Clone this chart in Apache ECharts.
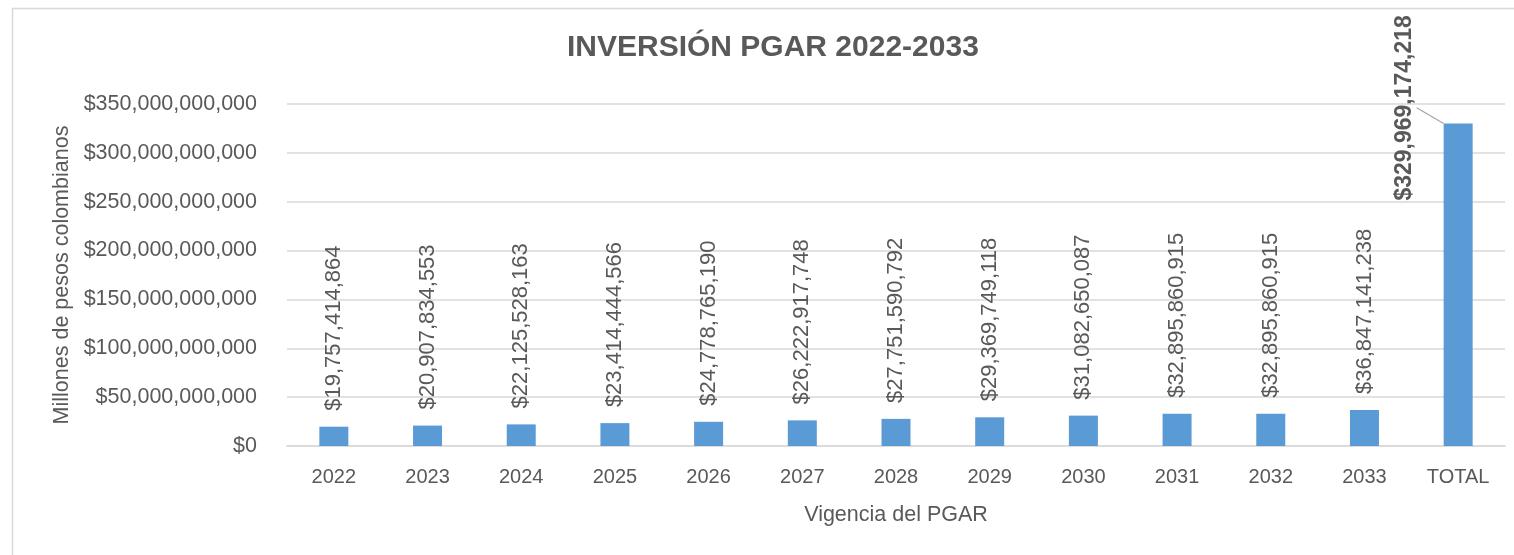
<!DOCTYPE html>
<html>
<head>
<meta charset="utf-8">
<script src="https://cdn.jsdelivr.net/npm/echarts@6/dist/echarts.min.js"></script>
<style>
  html, body { margin: 0; padding: 0; background: #ffffff; }
  #chart { width: 1514px; height: 555px; }
</style>
</head>
<body>
<div id="chart"></div>
<script>
// Investment per year of the PGAR plan, plus the overall total
const categories = ['2022', '2023', '2024', '2025', '2026', '2027', '2028', '2029', '2030', '2031', '2032', '2033', 'TOTAL'];
const investment = [
  19757414864, 20907834553, 22125528163, 23414444566, 24778765190, 26222917748,
  27751590792, 29369749118, 31082650087, 32895860915, 32895860915, 36847141238,
  329969174218
];
const yTicks = { min: 0, max: 350000000000, interval: 50000000000 };

const FONT = '"Liberation Sans", Arial, sans-serif';
const GREY = '#595959';
const GRID = '#d9d9d9';
const BAR = '#5b9bd5';

const money = v => '$' + Math.round(v).toLocaleString('en-US');
const totalIndex = categories.indexOf('TOTAL');

const chart = echarts.init(document.getElementById('chart'), null, { renderer: 'canvas' });

chart.setOption({
  animation: false,
  backgroundColor: '#ffffff',
  textStyle: { fontFamily: FONT },
  graphic: [{
    type: 'rect',
    left: 10, top: 6,
    shape: { width: 1700, height: 700 },
    style: { fill: 'none', stroke: GRID, lineWidth: 1.5 },
    silent: true, z: -1
  }],
  title: {
    text: 'INVERSIÓN PGAR 2022-2033',
    left: 562, top: 28,
    textStyle: { fontFamily: FONT, fontSize: 30, fontWeight: 'bold', color: GREY }
  },
  grid: { left: 287, right: 9, top: 104, bottom: 109, containLabel: false },
  xAxis: {
    type: 'category',
    data: categories,
    name: 'Vigencia del PGAR',
    nameLocation: 'middle',
    nameGap: 58,
    nameTextStyle: { fontFamily: FONT, fontSize: 21.5, color: GREY },
    axisLine: { show: true, lineStyle: { color: GRID, width: 1.5 } },
    axisTick: { show: false },
    axisLabel: { fontFamily: FONT, fontSize: 20, color: GREY, margin: 21 }
  },
  yAxis: {
    type: 'value',
    min: yTicks.min, max: yTicks.max, interval: yTicks.interval,
    name: 'Millones de pesos colombianos',
    nameLocation: 'middle',
    nameGap: 183,
    nameTextStyle: { fontFamily: FONT, fontSize: 21.5, color: GREY },
    axisLine: { show: false },
    axisTick: { show: false },
    splitLine: { lineStyle: { color: GRID, width: 1.5 } },
    axisLabel: { fontFamily: FONT, fontSize: 21.5, color: GREY, margin: 30, formatter: money }
  },
  series: [{
    type: 'bar',
    barWidth: 29,
    itemStyle: { color: BAR },
    data: investment.map((v, i) => i === totalIndex ? {
      value: v,
      label: { fontWeight: 'bold', fontSize: 23, distance: 14 },
      labelLine: { show: true, lineStyle: { color: '#a6a6a6', width: 1.2 } }
    } : v),
    label: {
      show: true,
      position: 'top',
      rotate: 90,
      align: 'left',
      verticalAlign: 'middle',
      distance: 16,
      fontFamily: FONT,
      fontSize: 22,
      color: GREY,
      formatter: p => money(p.value)
    },
    labelLine: { show: false },
    // offsets are in the rotated label frame: dx runs along the text, dy across it
    labelLayout: p => p.dataIndex === totalIndex ? { dx: -91, dy: -53 } : {}
  }]
});
</script>
</body>
</html>
